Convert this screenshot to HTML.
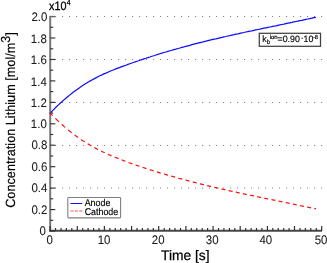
<!DOCTYPE html>
<html><head><meta charset="utf-8"><title>chart</title><style>html,body{margin:0;padding:0;background:#fff;overflow:hidden}svg text{font-family:"Liberation Sans",sans-serif}</style></head><body>
<svg width="327" height="263" viewBox="0 0 327 263" style="display:block;will-change:transform" font-family="Liberation Sans, sans-serif" text-rendering="geometricPrecision">
<rect width="327" height="263" fill="#fff"/>
<line x1="55.1" x2="322.2" y1="188.0" y2="188.0" stroke="#777" stroke-width="1.1" stroke-dasharray="1 6"/>
<line x1="55.1" x2="322.2" y1="145.5" y2="145.5" stroke="#777" stroke-width="1.1" stroke-dasharray="1 6"/>
<line x1="55.1" x2="322.2" y1="102.5" y2="102.5" stroke="#777" stroke-width="1.1" stroke-dasharray="1 6"/>
<line x1="55.1" x2="322.2" y1="59.5" y2="59.5" stroke="#777" stroke-width="1.1" stroke-dasharray="1 6"/>
<line x1="55.1" x2="322.2" y1="16.5" y2="16.5" stroke="#777" stroke-width="1.1" stroke-dasharray="1 6"/>
<line x1="50.2" x2="50.2" y1="15.90" y2="231.7" stroke="#787878" stroke-width="2"/>
<line x1="49.2" x2="322.0" y1="230.75" y2="230.75" stroke="#484848" stroke-width="1.9"/>
<line x1="50.1" x2="55.3" y1="231.0" y2="231.0" stroke="#333" stroke-width="1.15"/>
<line x1="50.1" x2="53.2" y1="220.3" y2="220.3" stroke="#333" stroke-width="1.15"/>
<line x1="50.1" x2="55.3" y1="209.6" y2="209.6" stroke="#333" stroke-width="1.15"/>
<line x1="50.1" x2="53.2" y1="198.8" y2="198.8" stroke="#333" stroke-width="1.15"/>
<line x1="50.1" x2="55.3" y1="188.1" y2="188.1" stroke="#333" stroke-width="1.15"/>
<line x1="50.1" x2="53.2" y1="177.4" y2="177.4" stroke="#333" stroke-width="1.15"/>
<line x1="50.1" x2="55.3" y1="166.7" y2="166.7" stroke="#333" stroke-width="1.15"/>
<line x1="50.1" x2="53.2" y1="156.0" y2="156.0" stroke="#333" stroke-width="1.15"/>
<line x1="50.1" x2="55.3" y1="145.2" y2="145.2" stroke="#333" stroke-width="1.15"/>
<line x1="50.1" x2="53.2" y1="134.5" y2="134.5" stroke="#333" stroke-width="1.15"/>
<line x1="50.1" x2="55.3" y1="123.8" y2="123.8" stroke="#333" stroke-width="1.15"/>
<line x1="50.1" x2="53.2" y1="113.1" y2="113.1" stroke="#333" stroke-width="1.15"/>
<line x1="50.1" x2="55.3" y1="102.4" y2="102.4" stroke="#333" stroke-width="1.15"/>
<line x1="50.1" x2="53.2" y1="91.6" y2="91.6" stroke="#333" stroke-width="1.15"/>
<line x1="50.1" x2="55.3" y1="80.9" y2="80.9" stroke="#333" stroke-width="1.15"/>
<line x1="50.1" x2="53.2" y1="70.2" y2="70.2" stroke="#333" stroke-width="1.15"/>
<line x1="50.1" x2="55.3" y1="59.5" y2="59.5" stroke="#333" stroke-width="1.15"/>
<line x1="50.1" x2="53.2" y1="48.8" y2="48.8" stroke="#333" stroke-width="1.15"/>
<line x1="50.1" x2="55.3" y1="38.0" y2="38.0" stroke="#333" stroke-width="1.15"/>
<line x1="50.1" x2="53.2" y1="27.3" y2="27.3" stroke="#333" stroke-width="1.15"/>
<line x1="50.1" x2="55.3" y1="16.6" y2="16.6" stroke="#6a6a6a" stroke-width="1.5"/>
<line x1="50.1" x2="50.1" y1="231.0" y2="226.0" stroke="#333" stroke-width="1.2"/>
<line x1="55.5" x2="55.5" y1="231.0" y2="228.0" stroke="#333" stroke-width="1.2"/>
<line x1="61.0" x2="61.0" y1="231.0" y2="228.0" stroke="#333" stroke-width="1.2"/>
<line x1="66.4" x2="66.4" y1="231.0" y2="228.0" stroke="#333" stroke-width="1.2"/>
<line x1="71.8" x2="71.8" y1="231.0" y2="228.0" stroke="#333" stroke-width="1.2"/>
<line x1="77.3" x2="77.3" y1="231.0" y2="226.0" stroke="#333" stroke-width="1.2"/>
<line x1="82.7" x2="82.7" y1="231.0" y2="228.0" stroke="#333" stroke-width="1.2"/>
<line x1="88.1" x2="88.1" y1="231.0" y2="228.0" stroke="#333" stroke-width="1.2"/>
<line x1="93.6" x2="93.6" y1="231.0" y2="228.0" stroke="#333" stroke-width="1.2"/>
<line x1="99.0" x2="99.0" y1="231.0" y2="228.0" stroke="#333" stroke-width="1.2"/>
<line x1="104.4" x2="104.4" y1="231.0" y2="226.0" stroke="#333" stroke-width="1.2"/>
<line x1="109.9" x2="109.9" y1="231.0" y2="228.0" stroke="#333" stroke-width="1.2"/>
<line x1="115.3" x2="115.3" y1="231.0" y2="228.0" stroke="#333" stroke-width="1.2"/>
<line x1="120.7" x2="120.7" y1="231.0" y2="228.0" stroke="#333" stroke-width="1.2"/>
<line x1="126.1" x2="126.1" y1="231.0" y2="228.0" stroke="#333" stroke-width="1.2"/>
<line x1="131.6" x2="131.6" y1="231.0" y2="226.0" stroke="#333" stroke-width="1.2"/>
<line x1="137.0" x2="137.0" y1="231.0" y2="228.0" stroke="#333" stroke-width="1.2"/>
<line x1="142.4" x2="142.4" y1="231.0" y2="228.0" stroke="#333" stroke-width="1.2"/>
<line x1="147.9" x2="147.9" y1="231.0" y2="228.0" stroke="#333" stroke-width="1.2"/>
<line x1="153.3" x2="153.3" y1="231.0" y2="228.0" stroke="#333" stroke-width="1.2"/>
<line x1="158.7" x2="158.7" y1="231.0" y2="226.0" stroke="#333" stroke-width="1.2"/>
<line x1="164.2" x2="164.2" y1="231.0" y2="228.0" stroke="#333" stroke-width="1.2"/>
<line x1="169.6" x2="169.6" y1="231.0" y2="228.0" stroke="#333" stroke-width="1.2"/>
<line x1="175.0" x2="175.0" y1="231.0" y2="228.0" stroke="#333" stroke-width="1.2"/>
<line x1="180.5" x2="180.5" y1="231.0" y2="228.0" stroke="#333" stroke-width="1.2"/>
<line x1="185.9" x2="185.9" y1="231.0" y2="226.0" stroke="#333" stroke-width="1.2"/>
<line x1="191.3" x2="191.3" y1="231.0" y2="228.0" stroke="#333" stroke-width="1.2"/>
<line x1="196.8" x2="196.8" y1="231.0" y2="228.0" stroke="#333" stroke-width="1.2"/>
<line x1="202.2" x2="202.2" y1="231.0" y2="228.0" stroke="#333" stroke-width="1.2"/>
<line x1="207.6" x2="207.6" y1="231.0" y2="228.0" stroke="#333" stroke-width="1.2"/>
<line x1="213.1" x2="213.1" y1="231.0" y2="226.0" stroke="#333" stroke-width="1.2"/>
<line x1="218.5" x2="218.5" y1="231.0" y2="228.0" stroke="#333" stroke-width="1.2"/>
<line x1="223.9" x2="223.9" y1="231.0" y2="228.0" stroke="#333" stroke-width="1.2"/>
<line x1="229.4" x2="229.4" y1="231.0" y2="228.0" stroke="#333" stroke-width="1.2"/>
<line x1="234.8" x2="234.8" y1="231.0" y2="228.0" stroke="#333" stroke-width="1.2"/>
<line x1="240.2" x2="240.2" y1="231.0" y2="226.0" stroke="#333" stroke-width="1.2"/>
<line x1="245.7" x2="245.7" y1="231.0" y2="228.0" stroke="#333" stroke-width="1.2"/>
<line x1="251.1" x2="251.1" y1="231.0" y2="228.0" stroke="#333" stroke-width="1.2"/>
<line x1="256.5" x2="256.5" y1="231.0" y2="228.0" stroke="#333" stroke-width="1.2"/>
<line x1="261.9" x2="261.9" y1="231.0" y2="228.0" stroke="#333" stroke-width="1.2"/>
<line x1="267.4" x2="267.4" y1="231.0" y2="226.0" stroke="#333" stroke-width="1.2"/>
<line x1="272.8" x2="272.8" y1="231.0" y2="228.0" stroke="#333" stroke-width="1.2"/>
<line x1="278.2" x2="278.2" y1="231.0" y2="228.0" stroke="#333" stroke-width="1.2"/>
<line x1="283.7" x2="283.7" y1="231.0" y2="228.0" stroke="#333" stroke-width="1.2"/>
<line x1="289.1" x2="289.1" y1="231.0" y2="228.0" stroke="#333" stroke-width="1.2"/>
<line x1="294.5" x2="294.5" y1="231.0" y2="226.0" stroke="#333" stroke-width="1.2"/>
<line x1="300.0" x2="300.0" y1="231.0" y2="228.0" stroke="#333" stroke-width="1.2"/>
<line x1="305.4" x2="305.4" y1="231.0" y2="228.0" stroke="#333" stroke-width="1.2"/>
<line x1="310.8" x2="310.8" y1="231.0" y2="228.0" stroke="#333" stroke-width="1.2"/>
<line x1="316.3" x2="316.3" y1="231.0" y2="228.0" stroke="#333" stroke-width="1.2"/>
<line x1="321.7" x2="321.7" y1="231.0" y2="226.0" stroke="#333" stroke-width="1.2"/>
<path d="M49.9,113.5 L51.9,111.4 L53.9,109.3 L55.9,107.3 L57.9,105.4 L59.9,103.5 L61.9,101.7 L63.9,99.9 L65.9,98.2 L67.9,96.5 L69.9,94.9 L71.9,93.3 L73.9,91.8 L75.9,90.3 L77.9,88.9 L79.9,87.5 L81.9,86.1 L83.9,84.8 L85.9,83.5 L87.9,82.3 L89.9,81.1 L91.9,80.0 L93.9,78.9 L95.9,77.9 L97.9,76.8 L99.9,75.8 L101.9,74.9 L103.9,73.9 L105.9,73.1 L107.9,72.2 L109.9,71.3 L111.9,70.5 L113.9,69.7 L115.9,68.9 L117.9,68.1 L119.9,67.4 L121.9,66.6 L123.9,65.9 L125.9,65.2 L127.9,64.4 L129.9,63.7 L131.9,63.0 L133.9,62.3 L135.9,61.6 L137.9,61.0 L139.9,60.3 L141.9,59.6 L143.9,58.9 L145.9,58.3 L147.9,57.6 L149.9,57.0 L151.9,56.3 L153.9,55.7 L155.9,55.0 L157.9,54.4 L159.9,53.7 L161.9,53.1 L163.9,52.5 L165.9,52.0 L167.9,51.4 L169.9,50.8 L171.9,50.2 L173.9,49.6 L175.9,49.1 L177.9,48.5 L179.9,48.0 L181.9,47.4 L183.9,46.9 L185.9,46.3 L187.9,45.8 L189.9,45.3 L191.9,44.7 L193.9,44.2 L195.9,43.7 L197.9,43.2 L199.9,42.7 L201.9,42.2 L203.9,41.6 L205.9,41.2 L207.9,40.7 L209.9,40.2 L211.9,39.7 L213.9,39.2 L215.9,38.8 L217.9,38.3 L219.9,37.8 L221.9,37.4 L223.9,36.9 L225.9,36.5 L227.9,36.0 L229.9,35.6 L231.9,35.1 L233.9,34.7 L235.9,34.2 L237.9,33.8 L239.9,33.3 L241.9,32.9 L243.9,32.5 L245.9,32.0 L247.9,31.6 L249.9,31.2 L251.9,30.8 L253.9,30.3 L255.9,29.9 L257.9,29.5 L259.9,29.1 L261.9,28.6 L263.9,28.2 L265.9,27.8 L267.9,27.4 L269.9,27.0 L271.9,26.6 L273.9,26.2 L275.9,25.8 L277.9,25.3 L279.9,24.9 L281.9,24.5 L283.9,24.1 L285.9,23.6 L287.9,23.2 L289.9,22.8 L291.9,22.4 L293.9,21.9 L295.9,21.5 L297.9,21.1 L299.9,20.7 L301.9,20.3 L303.9,19.8 L305.9,19.4 L307.9,19.0 L309.9,18.6 L311.9,18.2 L313.9,17.7 L315.9,17.3" fill="none" stroke="#0c0cff" stroke-width="1.2"/>
<path d="M49.9,112.7 L50.4,113.3 L50.9,113.8 L51.4,114.3 L51.9,114.8 L52.4,115.3 L52.6,115.6 M55.4,118.4 L55.9,118.9 L56.4,119.4 L56.9,119.9 L57.4,120.3 L57.9,120.8 L58.4,121.3 L58.9,121.8 M61.7,124.4 L62.2,124.8 L62.7,125.2 L63.2,125.7 L63.7,126.1 L64.2,126.6 L64.7,127.0 L65.2,127.4 M68.1,129.9 L68.6,130.3 L69.1,130.7 L69.6,131.1 L70.1,131.5 L70.6,131.9 L71.1,132.3 L71.6,132.7 M74.6,134.9 L75.1,135.3 L75.6,135.7 L76.1,136.1 L76.6,136.4 L77.1,136.8 L77.6,137.1 L78.1,137.5 M81.1,139.6 L81.6,139.9 L82.1,140.2 L82.6,140.5 L83.1,140.9 L83.6,141.2 L84.1,141.5 L84.6,141.8 L84.7,141.9 M87.7,143.8 L88.2,144.1 L88.7,144.4 L89.2,144.6 L89.7,144.9 L90.2,145.2 L90.7,145.5 L91.2,145.8 L91.3,145.9 M94.3,147.5 L94.8,147.8 L95.3,148.1 L95.8,148.4 L96.3,148.6 L96.8,148.9 L97.3,149.2 L97.8,149.4 L98.0,149.5 M101.1,151.1 L101.6,151.3 L102.1,151.6 L102.6,151.8 L103.1,152.0 L103.6,152.3 L104.1,152.5 L104.6,152.7 L104.8,152.8 M107.9,154.2 L108.4,154.5 L108.9,154.7 L109.4,154.9 L109.9,155.1 L110.4,155.3 L110.9,155.6 L111.4,155.8 L111.6,155.9 M114.7,157.1 L115.2,157.3 L115.7,157.5 L116.2,157.7 L116.7,157.9 L117.2,158.1 L117.7,158.3 L118.2,158.5 L118.5,158.7 M121.6,159.9 L122.1,160.0 L122.6,160.2 L123.1,160.4 L123.6,160.6 L124.1,160.8 L124.6,161.0 L125.1,161.2 L125.4,161.3 M128.6,162.5 L129.1,162.7 L129.6,162.9 L130.1,163.0 L130.6,163.2 L131.1,163.4 L131.6,163.6 L132.1,163.8 L132.4,163.9 M135.6,165.0 L136.1,165.2 L136.6,165.3 L137.1,165.5 L137.6,165.7 L138.1,165.8 L138.6,166.0 L139.1,166.2 L139.4,166.3 M142.7,167.4 L143.2,167.5 L143.7,167.7 L144.2,167.8 L144.7,168.0 L145.2,168.2 L145.7,168.3 L146.2,168.5 L146.5,168.6 M149.8,169.7 L150.3,169.8 L150.8,170.0 L151.3,170.1 L151.8,170.3 L152.3,170.5 L152.8,170.6 L153.3,170.8 L153.6,170.9 M156.9,171.9 L157.4,172.1 L157.9,172.2 L158.4,172.4 L158.9,172.6 L159.4,172.7 L159.9,172.9 L160.4,173.0 L160.8,173.1 M164.0,174.1 L164.5,174.2 L165.0,174.3 L165.5,174.5 L166.0,174.6 L166.5,174.8 L167.0,174.9 L167.5,175.1 L167.9,175.2 M171.2,176.1 L171.7,176.2 L172.2,176.4 L172.7,176.5 L173.2,176.7 L173.7,176.8 L174.2,176.9 L174.7,177.1 L175.1,177.2 M178.4,178.1 L178.9,178.3 L179.4,178.4 L179.9,178.5 L180.4,178.7 L180.9,178.8 L181.4,178.9 L181.9,179.1 L182.3,179.2 M185.6,180.1 L186.1,180.2 L186.6,180.3 L187.1,180.5 L187.6,180.6 L188.1,180.7 L188.6,180.9 L189.1,181.0 L189.5,181.1 M192.8,182.0 L193.3,182.1 L193.8,182.2 L194.3,182.4 L194.8,182.5 L195.3,182.6 L195.8,182.7 L196.3,182.9 L196.7,183.0 M200.0,183.8 L200.5,183.9 L201.0,184.1 L201.5,184.2 L202.0,184.3 L202.5,184.5 L203.0,184.6 L203.5,184.7 L203.9,184.8 M207.2,185.6 L207.7,185.7 L208.2,185.8 L208.7,186.0 L209.2,186.1 L209.7,186.2 L210.2,186.3 L210.7,186.4 L211.1,186.5 M214.3,187.3 L214.8,187.4 L215.3,187.5 L215.8,187.6 L216.3,187.7 L216.8,187.9 L217.3,188.0 L217.8,188.1 L218.2,188.2 M221.5,188.9 L222.0,189.1 L222.5,189.2 L223.0,189.3 L223.5,189.4 L224.0,189.5 L224.5,189.6 L225.0,189.7 L225.4,189.8 M228.6,190.5 L229.1,190.6 L229.6,190.8 L230.1,190.9 L230.6,191.0 L231.1,191.1 L231.6,191.2 L232.1,191.3 L232.6,191.4 M235.8,192.1 L236.3,192.2 L236.8,192.3 L237.3,192.5 L237.8,192.6 L238.3,192.7 L238.8,192.8 L239.3,192.9 L239.7,193.0 M242.9,193.7 L243.4,193.8 L243.9,193.9 L244.4,194.0 L244.9,194.1 L245.4,194.2 L245.9,194.3 L246.4,194.4 L246.8,194.5 M250.1,195.2 L250.6,195.3 L251.1,195.4 L251.6,195.5 L252.1,195.6 L252.6,195.7 L253.1,195.8 L253.6,195.9 L254.0,196.0 M257.2,196.7 L257.7,196.8 L258.2,196.9 L258.7,197.0 L259.2,197.1 L259.7,197.2 L260.2,197.3 L260.7,197.4 L261.1,197.5 M264.3,198.2 L264.8,198.3 L265.3,198.4 L265.8,198.5 L266.3,198.6 L266.8,198.7 L267.3,198.8 L267.8,198.9 L268.2,199.0 M271.5,199.6 L272.0,199.7 L272.5,199.8 L273.0,199.9 L273.5,200.0 L274.0,200.1 L274.5,200.2 L275.0,200.3 L275.4,200.4 M278.6,201.1 L279.1,201.2 L279.6,201.3 L280.1,201.4 L280.6,201.5 L281.1,201.6 L281.6,201.7 L282.1,201.8 L282.5,201.9 M285.7,202.5 L286.2,202.7 L286.7,202.8 L287.2,202.9 L287.7,203.0 L288.2,203.1 L288.7,203.2 L289.2,203.3 L289.6,203.4 M292.9,204.1 L293.4,204.2 L293.9,204.3 L294.4,204.4 L294.9,204.5 L295.4,204.6 L295.9,204.7 L296.4,204.8 L296.7,204.9 M300.0,205.5 L300.5,205.7 L301.0,205.8 L301.5,205.9 L302.0,206.0 L302.5,206.1 L303.0,206.2 L303.5,206.3 L303.9,206.4 M307.1,207.0 L307.6,207.1 L308.1,207.2 L308.6,207.3 L309.1,207.5 L309.6,207.6 L310.1,207.7 L310.6,207.8 L311.0,207.9 M314.3,208.5 L314.8,208.6 L315.3,208.7 L315.8,208.8 L315.9,208.9" fill="none" stroke="#ff0c0c" stroke-width="1.2"/>
<text transform="translate(45.90,234.90) scale(0.925,1)" font-size="12.40" text-anchor="end" fill="#1a1a1a" stroke="#1a1a1a" stroke-width="0.08">0</text>
<text transform="translate(47.40,213.76) scale(0.925,1)" font-size="12.40" text-anchor="end" fill="#1a1a1a" stroke="#1a1a1a" stroke-width="0.08">0.2</text>
<text transform="translate(47.40,192.32) scale(0.925,1)" font-size="12.40" text-anchor="end" fill="#1a1a1a" stroke="#1a1a1a" stroke-width="0.08">0.4</text>
<text transform="translate(47.40,170.88) scale(0.925,1)" font-size="12.40" text-anchor="end" fill="#1a1a1a" stroke="#1a1a1a" stroke-width="0.08">0.6</text>
<text transform="translate(47.40,149.44) scale(0.925,1)" font-size="12.40" text-anchor="end" fill="#1a1a1a" stroke="#1a1a1a" stroke-width="0.08">0.8</text>
<text transform="translate(46.80,128.45) scale(0.925,1)" font-size="12.40" text-anchor="end" fill="#1a1a1a" stroke="#1a1a1a" stroke-width="0.08">1.0</text>
<text transform="translate(46.80,107.01) scale(0.925,1)" font-size="12.40" text-anchor="end" fill="#1a1a1a" stroke="#1a1a1a" stroke-width="0.08">1.2</text>
<text transform="translate(46.80,85.57) scale(0.925,1)" font-size="12.40" text-anchor="end" fill="#1a1a1a" stroke="#1a1a1a" stroke-width="0.08">1.4</text>
<text transform="translate(46.80,64.13) scale(0.925,1)" font-size="12.40" text-anchor="end" fill="#1a1a1a" stroke="#1a1a1a" stroke-width="0.08">1.6</text>
<text transform="translate(46.80,42.69) scale(0.925,1)" font-size="12.40" text-anchor="end" fill="#1a1a1a" stroke="#1a1a1a" stroke-width="0.08">1.8</text>
<text transform="translate(47.40,20.80) scale(0.925,1)" font-size="12.40" text-anchor="end" fill="#1a1a1a" stroke="#1a1a1a" stroke-width="0.08">2.0</text>
<text transform="translate(49.70,243.70) scale(0.925,1)" font-size="12.40" text-anchor="middle" fill="#1a1a1a" stroke="#1a1a1a" stroke-width="0.08">0</text>
<text transform="translate(104.02,243.70) scale(0.925,1)" font-size="12.40" text-anchor="middle" fill="#1a1a1a" stroke="#1a1a1a" stroke-width="0.08">10</text>
<text transform="translate(158.24,243.70) scale(0.925,1)" font-size="12.40" text-anchor="middle" fill="#1a1a1a" stroke="#1a1a1a" stroke-width="0.08">20</text>
<text transform="translate(212.21,243.70) scale(0.925,1)" font-size="12.40" text-anchor="middle" fill="#1a1a1a" stroke="#1a1a1a" stroke-width="0.08">30</text>
<text transform="translate(265.78,243.70) scale(0.925,1)" font-size="12.40" text-anchor="middle" fill="#1a1a1a" stroke="#1a1a1a" stroke-width="0.08">40</text>
<text transform="translate(321.00,243.70) scale(0.925,1)" font-size="12.40" text-anchor="middle" fill="#1a1a1a" stroke="#1a1a1a" stroke-width="0.08">50</text>
<text transform="translate(49.00,9.90) scale(0.900,1)" font-size="12.00" text-anchor="start" fill="#000" stroke="#000" stroke-width="0.30">x10<tspan font-size="7.6" dy="-5.0" dx="0.3">4</tspan></text>
<text transform="translate(185.30,259.80) scale(1.000,1)" font-size="13.80" text-anchor="middle" fill="#000" stroke="#000" stroke-width="0.25">Time [s]</text>
<text transform="translate(14.55,120.00) rotate(-90) scale(0.955,1)" font-size="13.30" text-anchor="middle" fill="#000" stroke="#000" stroke-width="0.15">Concentration Lithium [mol/m<tspan font-size="13" dy="-5.0">3</tspan><tspan dy="5.0">]</tspan></text>
<rect x="67.8" y="197.5" width="52.8" height="20.4" rx="0.8" fill="#fff" stroke="#808080" stroke-width="1.1"/>
<line x1="70.5" x2="82.2" y1="203.5" y2="203.5" stroke="#0c0cff" stroke-width="1.0"/>
<line x1="70.5" x2="82.3" y1="211.0" y2="211.0" stroke="#ff3a3a" stroke-width="0.9" stroke-dasharray="3.1 1.25"/>
<text transform="translate(84.70,205.90) scale(0.905,1)" font-size="9.80" text-anchor="start" fill="#000" stroke="#000" stroke-width="0.15">Anode</text>
<text transform="translate(84.70,214.70) scale(0.905,1)" font-size="9.80" text-anchor="start" fill="#000" stroke="#000" stroke-width="0.15">Cathode</text>
<rect x="259.3" y="33.3" width="61.2" height="13.0" fill="#fff" stroke="#404040" stroke-width="1.25"/>
<text transform="translate(262.30,42.30) scale(0.940,1)" font-size="9.40" text-anchor="start" fill="#000" stroke="#000" stroke-width="0.15">k</text>
<text transform="translate(266.80,43.90) scale(0.950,1)" font-size="6.30" text-anchor="start" fill="#000" stroke="#000" stroke-width="0.15">b</text>
<text transform="translate(269.70,38.90) scale(1.000,1)" font-size="6.00" text-anchor="start" fill="#000" stroke="#000" stroke-width="0.20">ion</text>
<text transform="translate(277.50,42.30) scale(0.940,1)" font-size="9.40" text-anchor="start" fill="#000" stroke="#000" stroke-width="0.15">=0.90</text>
<text transform="translate(300.45,40.85) scale(1.000,1)" font-size="10.00" text-anchor="start" fill="#000" stroke="#000" stroke-width="0.10">·</text>
<text transform="translate(303.50,42.30) scale(0.940,1)" font-size="9.40" text-anchor="start" fill="#000" stroke="#000" stroke-width="0.15">10</text>
<text transform="translate(312.90,39.10) scale(0.980,1)" font-size="5.80" text-anchor="start" fill="#000" stroke="#000" stroke-width="0.20">-8</text>
</svg>
</body></html>
